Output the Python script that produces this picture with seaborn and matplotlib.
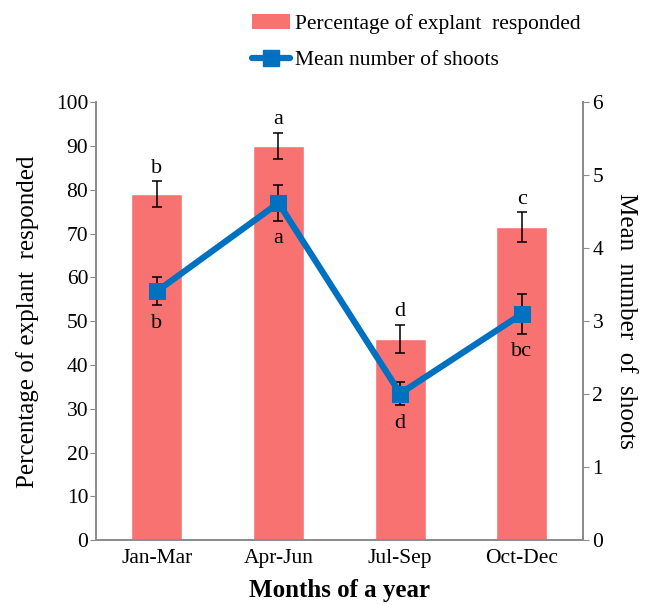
import numpy as np
import matplotlib
matplotlib.use("Agg")
import matplotlib.pyplot as plt
import seaborn as sns
import pandas as pd
from matplotlib.patches import Patch
from matplotlib.lines import Line2D

months = ["Jan-Mar", "Apr-Jun", "Jul-Sep", "Oct-Dec"]
pct_responded = [79, 90, 46, 71.5]
pct_err = [3.0, 3.0, 3.2, 3.4]
pct_letters = ["b", "a", "d", "c"]
mean_shoots = [3.41, 4.62, 2.01, 3.10]
shoots_err = [0.19, 0.24, 0.16, 0.27]
shoots_letters = ["b", "a", "d", "bc"]

sns.set_style("white")
plt.rcParams["font.family"] = ["Liberation Serif", "DejaVu Serif"]
plt.rcParams["text.color"] = "black"
plt.rcParams["axes.labelcolor"] = "black"
plt.rcParams["xtick.color"] = "black"
plt.rcParams["ytick.color"] = "black"

bar_color = "#F87272"
line_color = "#0070C0"
spine_color = "#8C8C8C"

fig = plt.figure(figsize=(6.57, 6.05), dpi=100)
ax = fig.add_axes([0.146, 0.107, 0.741, 0.724])

df = pd.DataFrame({"month": months, "pct": pct_responded})
sns.barplot(data=df, x="month", y="pct", color=bar_color, saturation=1,
            width=0.42, errorbar=None, ax=ax)
x = np.arange(len(months))
ax.errorbar(x, pct_responded, yerr=pct_err, fmt="none", ecolor="black",
            elinewidth=1.1, capsize=3.5, capthick=1.1, zorder=3)
for xi, v, e, lab in zip(x, pct_responded, pct_err, pct_letters):
    ax.text(xi, v + e + 0.8, lab, ha="center", va="bottom", fontsize=16)

ax.set_xlim(-0.5, 3.5)
ax.set_ylim(0, 100)
ax.set_yticks(np.arange(0, 101, 10))
ax.set_xticks(x)
ax.set_xticklabels(months, fontsize=15.5)
ax.set_xticks(np.arange(-0.5, 4, 1), minor=True)
ax.tick_params(axis="x", which="major", length=0, pad=6)
ax.tick_params(axis="x", which="minor", length=4, color=spine_color, direction="out")
ax.tick_params(axis="y", length=4, color=spine_color, direction="out",
               labelsize=15.5, pad=1.5)
ax.set_xlabel("Months of a year", fontsize=18, fontweight="bold", labelpad=8)
ax.set_ylabel("Percentage of explant  responded", fontsize=18, labelpad=12)

ax2 = ax.twinx()
ax2.set_position(ax.get_position())
sns.lineplot(x=x, y=mean_shoots, ax=ax2, color=line_color, linewidth=4.5,
             marker="s", markersize=11, markeredgecolor=line_color, legend=False)
ax2.errorbar(x, mean_shoots, yerr=shoots_err, fmt="none", ecolor="black",
             elinewidth=1.1, capsize=3.5, capthick=1.1, zorder=1)
for xi, v, e, lab in zip(x, mean_shoots, shoots_err, shoots_letters):
    ax2.text(xi, v - e - 0.12, lab, ha="center", va="top", fontsize=16)
ax2.set_ylim(0, 6)
ax2.set_yticks(np.arange(0, 7, 1))
ax2.tick_params(axis="y", length=4, color=spine_color, direction="out",
                labelsize=15.5, pad=3)
ax2.set_ylabel("Mean  number  of  shoots", fontsize=18, rotation=-90, labelpad=24)

for a in (ax, ax2):
    a.spines["top"].set_visible(False)
    for side in ("left", "right", "bottom"):
        a.spines[side].set_color(spine_color)
        a.spines[side].set_linewidth(1.3)

handles = [Patch(facecolor=bar_color, edgecolor="none"),
           Line2D([0], [0], color=line_color, linewidth=4.5, marker="s",
                  markersize=11)]
fig.legend(handles, ["Percentage of explant  responded", "Mean number of shoots"],
           loc="upper left", bbox_to_anchor=(0.362, 1.0), frameon=False,
           fontsize=15.5, handlelength=1.75, handletextpad=0.25, labelspacing=0.75,
           borderaxespad=0.25)

fig.savefig("out.png", dpi=100)
